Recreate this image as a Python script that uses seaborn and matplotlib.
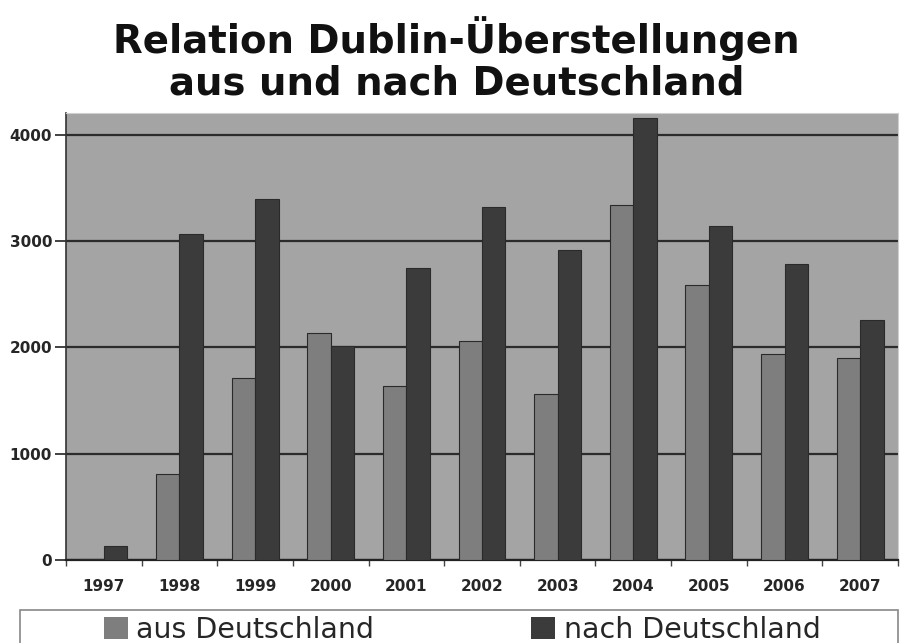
import matplotlib
matplotlib.use("Agg")
import matplotlib.pyplot as plt
import seaborn as sns
import pandas as pd
from matplotlib.patches import Rectangle

years = ["1997", "1998", "1999", "2000", "2001", "2002", "2003", "2004", "2005", "2006", "2007"]
aus_deutschland = [5, 805, 1710, 2140, 1640, 2060, 1560, 3345, 2590, 1940, 1900]
nach_deutschland = [130, 3070, 3400, 2010, 2750, 3320, 2920, 4160, 3140, 2790, 2260]
series_names = ["aus Deutschland", "nach Deutschland"]
yticks = [0, 1000, 2000, 3000, 4000]

df = pd.DataFrame({
    "Jahr": years * 2,
    "Wert": aus_deutschland + nach_deutschland,
    "Serie": [series_names[0]] * len(years) + [series_names[1]] * len(years),
})

sns.set_theme(style="white")
plt.rcParams["font.family"] = ["DejaVu Sans"]

W, H = 904, 643
fig = plt.figure(figsize=(W / 100, H / 100), dpi=100)
ax = fig.add_axes([66 / W, (H - 560) / H, (898 - 66) / W, (560 - 113) / H])
ax.set_facecolor("#a4a4a4")

palette = {series_names[0]: "#7e7e7e", series_names[1]: "#3b3b3b"}
sns.barplot(data=df, x="Jahr", y="Wert", hue="Serie", palette=palette,
            width=0.62, edgecolor="#2a2a2a", linewidth=0.8, saturation=1,
            ax=ax, legend=False, zorder=3)

ax.set_ylim(0, 4207)
ax.set_xlim(-0.5, len(years) - 0.5)
ax.set_yticks(yticks)
ax.set_yticklabels([str(v) for v in yticks], fontweight="bold", fontsize=11)
ax.yaxis.grid(True, color="#2b2b2b", linewidth=1.6, zorder=1)
ax.set_axisbelow(True)
ax.set_xlabel("")
ax.set_ylabel("")
ax.tick_params(axis="y", which="major", direction="out", length=8, width=1.2,
               color="#222222", pad=2, left=True)
ax.set_xticks(range(len(years)))
ax.set_xticklabels(years, fontweight="bold", fontsize=11)
ax.tick_params(axis="x", which="major", length=0, pad=14)
ax.set_xticks([i - 0.5 for i in range(len(years) + 1)], minor=True)
ax.tick_params(axis="x", which="minor", direction="out", length=4, width=1,
               color="#444444", bottom=True)

for side in ["top", "right"]:
    ax.spines[side].set_visible(True)
    ax.spines[side].set_color("#cfcfcf")
    ax.spines[side].set_linewidth(0.8)
ax.spines["left"].set_color("#333333")
ax.spines["left"].set_linewidth(1.2)
ax.spines["bottom"].set_color("#222222")
ax.spines["bottom"].set_linewidth(1.6)

fig.text(0.505, 1 - 59 / H, "Relation Dublin-Überstellungen\naus und nach Deutschland",
         ha="center", va="center", fontsize=27.8, fontweight="bold",
         linespacing=1.13, color="#111111")

# legend frame
fig.patches.append(Rectangle((20 / W, -0.05), (898 - 20) / W, (H - 610) / H + 0.05,
                             transform=fig.transFigure, facecolor="white",
                             edgecolor="#888888", linewidth=1.2))

handles = [plt.Rectangle((0, 0), 1, 1, facecolor=palette[s], edgecolor="none") for s in series_names]
fig.legend(handles, series_names, loc="center", bbox_to_anchor=(462 / W, 1 - 630 / H),
           ncol=2, frameon=False, fontsize=20.5, handlelength=0.85, handleheight=0.8,
           handletextpad=0.3, columnspacing=5.5, borderpad=0)

fig.savefig("out.png", dpi=100)
